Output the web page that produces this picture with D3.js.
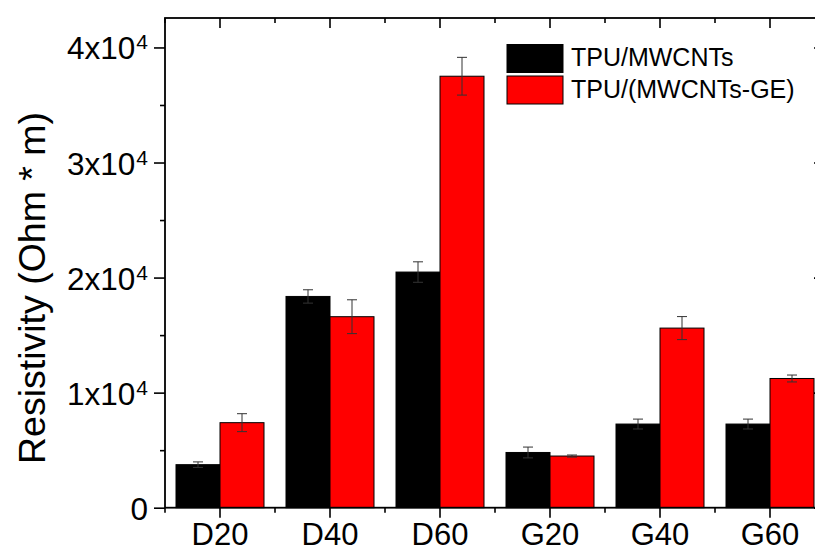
<!DOCTYPE html>
<html>
<head>
<meta charset="utf-8">
<script src="https://cdn.jsdelivr.net/npm/d3@7"></script>
<style>
  body { margin: 0; background: #fff; }
  svg { display: block; font-family: Arial, "Liberation Sans", sans-serif; }
</style>
</head>
<body>
<svg id="chart" width="815" height="552"></svg>
<script>
const categories = ["D20", "D40", "D60", "G20", "G40", "G60"];
const seriesNames = ["TPU/MWCNTs", "TPU/(MWCNTs-GE)"];
const mwcnt = [3740, 18360, 20480, 4800, 7270, 7270];
const mwcntErr = [240, 580, 890, 470, 430, 430];
const mwcntGe = [7390, 16600, 37500, 4490, 15610, 11230];
const mwcntGeErr = [780, 1470, 1640, 90, 1000, 300];
const yMajorTicks = [0, 10000, 20000, 30000, 40000];
const yMinorTicks = [5000, 15000, 25000, 35000];
const yTickLabels = ["0", "1x10|4", "2x10|4", "3x10|4", "4x10|4"];
const colors = ["#000000", "#ff0000"];

const svg = d3.select("#chart");
const pLeft = 165, pRight = 825, pTop = 18, pBottom = 507.7;

const x0 = d3.scaleBand().domain(categories).range([pLeft, pRight]).paddingInner(0.2).paddingOuter(0.1);
const x1 = d3.scaleBand().domain(seriesNames).range([0, x0.bandwidth()]);
const y = d3.scaleLinear().domain([0, 42560]).range([pBottom, pTop]);

const rows = categories.map((c, i) => ({
  cat: c,
  vals: [
    { s: seriesNames[0], v: mwcnt[i], e: mwcntErr[i], c: colors[0] },
    { s: seriesNames[1], v: mwcntGe[i], e: mwcntGeErr[i], c: colors[1] }
  ]
}));

// bars
const g = svg.append("g").selectAll("g").data(rows).join("g")
  .attr("transform", d => `translate(${x0(d.cat)},0)`);
g.selectAll("rect").data(d => d.vals).join("rect")
  .attr("x", d => x1(d.s))
  .attr("y", d => y(d.v))
  .attr("width", x1.bandwidth())
  .attr("height", d => y(0) - y(d.v))
  .attr("fill", d => d.c)
  .attr("stroke", "#000")
  .attr("stroke-width", 1);

// error bars
const eb = g.selectAll("g.err").data(d => d.vals).join("g").attr("class", "err")
  .attr("stroke", "#333").attr("stroke-width", 1);
eb.append("line")
  .attr("x1", d => x1(d.s) + x1.bandwidth() / 2).attr("x2", d => x1(d.s) + x1.bandwidth() / 2)
  .attr("y1", d => y(d.v - d.e)).attr("y2", d => y(d.v + d.e));
eb.append("line")
  .attr("x1", d => x1(d.s) + x1.bandwidth() / 2 - 5).attr("x2", d => x1(d.s) + x1.bandwidth() / 2 + 5)
  .attr("y1", d => y(d.v + d.e)).attr("y2", d => y(d.v + d.e));
eb.append("line")
  .attr("x1", d => x1(d.s) + x1.bandwidth() / 2 - 5).attr("x2", d => x1(d.s) + x1.bandwidth() / 2 + 5)
  .attr("y1", d => y(d.v - d.e)).attr("y2", d => y(d.v - d.e));

// axes
const axisStyle = sel => {
  sel.selectAll(".domain").remove();
  sel.selectAll(".tick line").attr("stroke", "#000").attr("stroke-width", 1.6);
};

const xb = svg.append("g").attr("transform", `translate(0,${pBottom})`)
  .call(d3.axisBottom(x0).tickSize(10).tickSizeOuter(0));
xb.call(axisStyle);
xb.selectAll(".tick text").attr("y", 37).attr("dy", 0)
  .attr("font-size", 31).attr("fill", "#000");
const xt = svg.append("g").attr("transform", `translate(0,${pTop})`)
  .call(d3.axisTop(x0).tickSize(-10).tickSizeOuter(0).tickFormat(""));
xt.call(axisStyle);

// minor x ticks at band boundaries
const bounds = categories.map(c => x0(c) - (x0.step() - x0.bandwidth()) / 2).concat([pRight]);
svg.append("g").selectAll("line").data(bounds).join("line")
  .attr("x1", d => d).attr("x2", d => d).attr("y1", pBottom).attr("y2", pBottom + 5)
  .attr("stroke", "#000").attr("stroke-width", 1.6);
svg.append("g").selectAll("line").data(bounds).join("line")
  .attr("x1", d => d).attr("x2", d => d).attr("y1", pTop).attr("y2", pTop + 5)
  .attr("stroke", "#000").attr("stroke-width", 1.6);

// left axis
const yl = svg.append("g").attr("transform", `translate(${pLeft},0)`)
  .call(d3.axisLeft(y).tickValues(yMajorTicks).tickSize(11).tickFormat(""));
yl.call(axisStyle);
yl.selectAll(".tick text").remove();
yl.selectAll(".tick").each(function (d, i) {
  const parts = yTickLabels[i].split("|");
  const t = d3.select(this).append("text")
    .attr("x", -17).attr("y", 11.5).attr("text-anchor", "end")
    .attr("font-size", 31.5).attr("fill", "#000");
  t.append("tspan").text(parts[0]);
  if (parts[1]) t.append("tspan").attr("dx", 1).attr("dy", -10).attr("font-size", 21).text(parts[1]);
});
svg.append("g").attr("transform", `translate(${pLeft},0)`)
  .call(d3.axisLeft(y).tickValues(yMinorTicks).tickSize(5).tickFormat(""))
  .call(axisStyle);

// right axis: inward
svg.append("g").attr("transform", `translate(${pRight},0)`)
  .call(d3.axisRight(y).tickValues(yMajorTicks).tickSize(-11).tickFormat(""))
  .call(axisStyle);
svg.append("g").attr("transform", `translate(${pRight},0)`)
  .call(d3.axisRight(y).tickValues(yMinorTicks).tickSize(-5).tickFormat(""))
  .call(axisStyle);

// frame
svg.append("rect").attr("x", pLeft).attr("y", pTop).attr("width", pRight - pLeft).attr("height", pBottom - pTop)
  .attr("fill", "none").attr("stroke", "#000").attr("stroke-width", 1.8);

// y label
svg.append("text")
  .attr("transform", "translate(45,288) rotate(-90)")
  .attr("text-anchor", "middle").attr("font-size", 37.5).attr("fill", "#000")
  .text("Resistivity (Ohm * m)");

// legend
const lg = svg.append("g").selectAll("g").data(seriesNames).join("g")
  .attr("transform", (d, i) => `translate(507,${44.5 + i * 31.5})`);
lg.append("rect").attr("width", 56).attr("height", 28)
  .attr("fill", (d, i) => colors[i]).attr("stroke", "#000").attr("stroke-width", 1);
lg.append("text").attr("x", 64).attr("y", 21.5).attr("font-size", 25).attr("fill", "#000").text(d => d);
</script>
</body>
</html>
